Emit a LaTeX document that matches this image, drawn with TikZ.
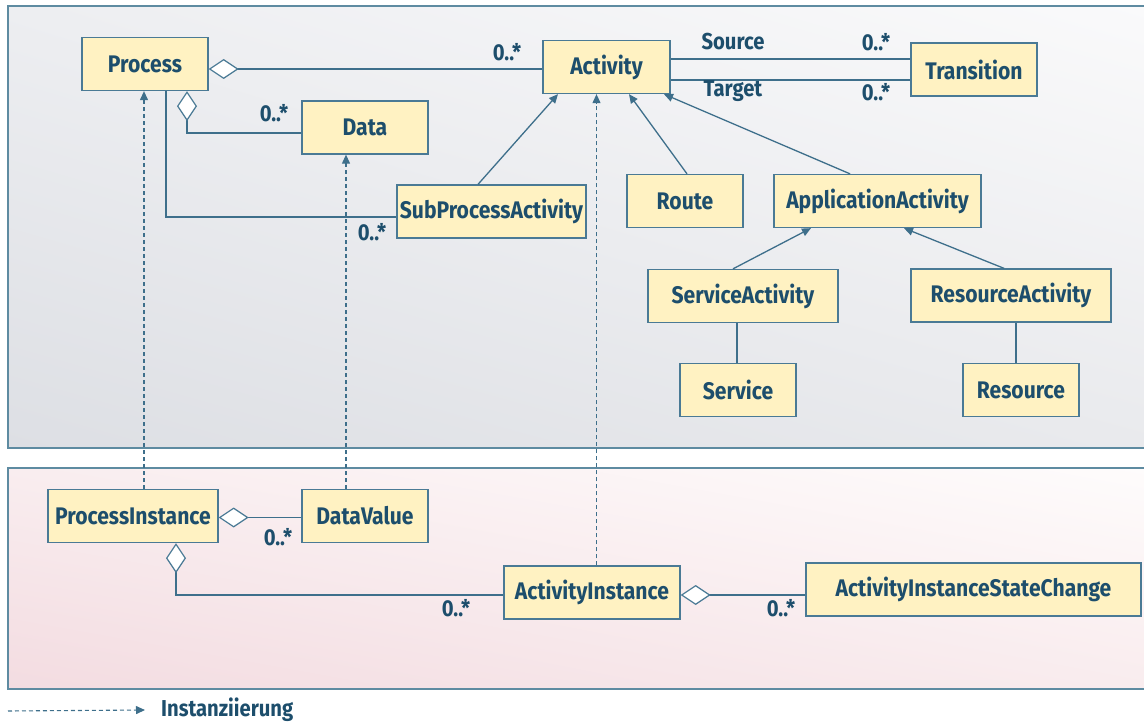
\documentclass[tikz,border=0pt]{standalone}
\usepackage{fontspec}
\setmainfont{Fira Sans}[FakeStretch=0.88]
\usetikzlibrary{arrows.meta,positioning,calc,shadings}
\definecolor{ink}{HTML}{1D4E6C}
\definecolor{boxline}{HTML}{4A7A95}
\definecolor{boxfill}{HTML}{FFF2C2}
\definecolor{wire}{HTML}{3E6F8B}
\definecolor{panelline}{HTML}{5E8BA1}
\definecolor{greyUL}{HTML}{EDEEF1}
\definecolor{greyUR}{HTML}{FAFAFB}
\definecolor{greyLL}{HTML}{DDDFE4}
\definecolor{greyLR}{HTML}{E9EAED}
\definecolor{pinkUL}{HTML}{F9EDEF}
\definecolor{pinkUR}{HTML}{FEFCFC}
\definecolor{pinkLL}{HTML}{F3DCE1}
\definecolor{pinkLR}{HTML}{F9ECEE}

\begin{document}
\begin{tikzpicture}[x=1pt,y=-1pt,
    class node/.style={rectangle,draw=boxline,line width=1.3pt,fill=boxfill,text=ink,
      font=\bfseries\fontsize{24}{24}\selectfont,minimum height=53pt,inner sep=0pt},
    mult/.style={text=ink,inner sep=0pt,font=\bfseries\fontsize{23}{23}\selectfont},
    assoc/.style={draw=wire,line width=1.3pt},
    aggr/.style={assoc,arrows={Diamond[length=30pt,width=20pt,color=boxline,fill=white,line width=1.2pt]-}},
    inherit/.style={assoc,arrows={-Triangle[length=9pt,width=8pt]}},
    inst/.style={draw=wire,line width=1.1pt,dash pattern=on 4pt off 3pt,arrows={-Triangle[length=9pt,width=8pt]}}]

  \useasboundingbox (0,0) rectangle (1144,722);

  % panels
  \shade[upper left=greyUL, upper right=greyUR, lower left=greyLL, lower right=greyLR] (8,6) rectangle (1152,448);
  \draw[panelline,line width=1.5pt] (8,6) rectangle (1152,448);
  \shade[upper left=pinkUL, upper right=pinkUR, lower left=pinkLL, lower right=pinkLR] (8,468) rectangle (1152,689);
  \draw[panelline,line width=1.5pt] (8,468) rectangle (1152,689);

  % classes
  \node[class node,minimum width=126pt] (Process) at (145,64) {Process};
  \node[class node,minimum width=127pt] (Activity) at (606.5,67) {Activity};
  \node[class node,minimum width=126pt] (Transition) at (974,69.5) {Transition};
  \node[class node,minimum width=126pt] (Data) at (365,127.5) {Data};
  \node[class node,minimum width=189pt] (SubProc) at (491.5,211.5) {SubProcessActivity};
  \node[class node,minimum width=116pt] (Route) at (685,201) {Route};
  \node[class node,minimum width=207pt] (AppAct) at (877.5,201) {ApplicationActivity};
  \node[class node,minimum width=190pt] (ServAct) at (743,296) {ServiceActivity};
  \node[class node,minimum width=200pt] (ResAct) at (1011,295.5) {ResourceActivity};
  \node[class node,minimum width=116pt] (Service) at (738,390) {Service};
  \node[class node,minimum width=116pt] (Resource) at (1021,390) {Resource};
  \node[class node,minimum width=170pt] (ProcInst) at (133,516) {ProcessInstance};
  \node[class node,minimum width=126pt] (DataVal) at (365,516) {DataValue};
  \node[class node,minimum width=176pt] (ActInst) at (592,592.5) {ActivityInstance};
  \node[class node,minimum width=335pt] (StateChg) at (973.5,589.5) {ActivityInstanceStateChange};

  % aggregations
  \draw[aggr] ([yshift=-5pt]Process.east) -- ([yshift=-5pt]Process.east -| Activity.west);
  \draw[aggr] ([xshift=42pt]Process.south) |- ([yshift=-5.5pt]Data.west);
  \draw[assoc] ([xshift=21pt]Process.south) |- ([yshift=-5.5pt]SubProc.west);
  \draw[assoc] ([yshift=8pt]Activity.east) -- ([yshift=8pt]Activity.east -| Transition.west);
  \draw[assoc] ([yshift=-13pt]Activity.east) -- ([yshift=-13pt]Activity.east -| Transition.west);
  \draw[aggr] ([yshift=-1.5pt]ProcInst.east) -- ([yshift=-1.5pt]ProcInst.east -| DataVal.west);
  \draw[aggr] ([xshift=43pt]ProcInst.south) |- ([yshift=-2.5pt]ActInst.west);
  \draw[aggr] ([yshift=-2.5pt]ActInst.east) -- ([yshift=-2.5pt]ActInst.east -| StateChg.west);

  % inheritance
  \draw[inherit] ([xshift=-13.5pt]SubProc.north) -- ([xshift=-48.5pt]Activity.south);
  \draw[inherit] ([xshift=2pt]Route.north) -- ([xshift=22.5pt]Activity.south);
  \draw[inherit] ([xshift=-27.5pt]AppAct.north) -- ([xshift=57.5pt]Activity.south);
  \draw[inherit] ([xshift=-10pt]ServAct.north) -- ([xshift=-66.5pt]AppAct.south);
  \draw[inherit] ([xshift=-7pt]ResAct.north) -- ([xshift=26.5pt]AppAct.south);
  \draw[assoc] ([xshift=-1pt]Service.north) -- ([xshift=-1pt]Service.north |- ServAct.south);
  \draw[assoc] ([xshift=-5pt]Resource.north) -- ([xshift=-5pt]Resource.north |- ResAct.south);

  % instantiation
  \draw[inst] ([xshift=-1pt]Process.south |- ProcInst.north) -- ([xshift=-1pt]Process.south);
  \draw[inst] ([xshift=-19pt]Data.south |- DataVal.north) -- ([xshift=-19pt]Data.south);
  \draw[inst] ([xshift=-10pt]Activity.south |- ActInst.north) -- ([xshift=-10pt]Activity.south);

  % multiplicities and roles
  \node[mult] (mAct) at (507,52) {0..*};
  \node[mult] (mData) at (274,113) {0..*};
  \node[mult] (mSub) at (372,232) {0..*};
  \node[mult] (lSource) at (733,42) {Source};
  \node[mult] (mSource) at (876,42) {0..*};
  \node[mult] (lTarget) at (733,91) {Target};
  \node[mult] (mTarget) at (876,92) {0..*};
  \node[mult] (mDataVal) at (278,537) {0..*};
  \node[mult] (mActInst) at (456,608) {0..*};
  \node[mult] (mStateChg) at (781,608) {0..*};

  % legend
  \coordinate (legStart) at (8,711);
  \node[mult,anchor=west] (legText) at (161,710) {Instanziierung};
  \draw[inst] (legStart) -- ([xshift=-16pt]legText.west);
\end{tikzpicture}
\end{document}
